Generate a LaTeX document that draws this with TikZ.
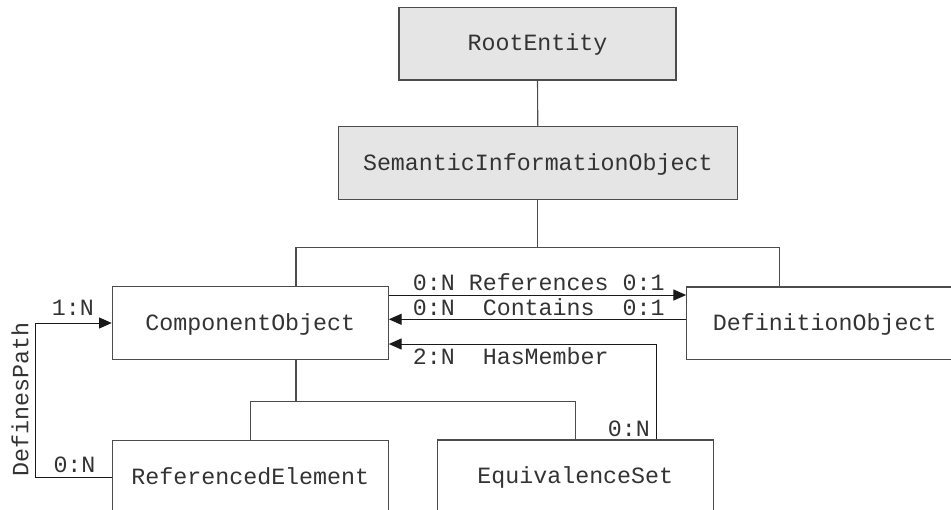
\documentclass[tikz,border=0pt]{standalone}
\usepackage{fontspec}
\setmonofont{Liberation Mono}
\usetikzlibrary{arrows.meta}

\tikzset{
  entity/.style={draw=black!70, line width=1.1pt, rectangle, inner sep=0pt,
    minimum width=276pt, minimum height=72.6pt,
    text height=16pt, text depth=2pt, text=black!80,
    font=\fontsize{23.3}{28}\selectfont\ttfamily},
  abstract/.style={entity, fill=black!10},
  tree/.style={draw=black!70, line width=1.1pt},
  assoc/.style={draw=black!90, line width=1pt,
    -{Triangle[length=12.7pt,width=11pt]}},
  lbl/.style={inner sep=0pt, anchor=base west, text=black!80,
    font=\fontsize{23.3}{28}\selectfont\ttfamily}
}

\begin{document}
\begin{tikzpicture}[x=1pt,y=-1pt]
\useasboundingbox (0,0) rectangle (951,509);
\clip (0,0) rectangle (951,509);

% classes
\node[abstract, minimum width=277pt] (root) at (537.5,43.7) {RootEntity};
\node[abstract, minimum width=399pt] (sio)  at (537.8,163)  {SemanticInformationObject};
\node[entity] (comp) at (250.3,323)   {ComponentObject};
\node[entity] (def)  at (824.7,323.3) {DefinitionObject};
\node[entity] (ref)  at (250.3,477)   {ReferencedElement};
\node[entity] (eq)   at (575.3,476.3) {EquivalenceSet};

% inheritance tree
\coordinate (busT) at ([yshift=-47.7pt]sio.south);
\draw[tree] (root.south) -- (sio.north);
\draw[tree] (sio.south) -- (busT);
\draw[tree] ([xshift=45.7pt]comp.north) |- (busT) -| ([xshift=-45.4pt]def.north);

\coordinate (busB) at ([xshift=45.7pt,yshift=-41.7pt]comp.south);
\draw[tree] ([xshift=45.7pt]comp.south) -- (busB);
\draw[tree] (ref.north) |- (busB) -| (eq.north);

% associations
\coordinate (refA) at ([yshift=28pt]comp.east);
\draw[assoc] (refA) -- (refA -| def.west);
\node[lbl] (lrefs) at (412.7,290.7) {0:N References 0:1};

\coordinate (conA) at ([yshift=4pt]def.west);
\draw[assoc] (conA) -- (conA -| comp.east);
\node[lbl] (lcont) at (412.7,315) {0:N\ \ Contains\ \ 0:1};

\coordinate (hasA) at ([xshift=80.7pt]eq.north);
\draw[assoc] (hasA) |- ([yshift=-21pt]comp.east);
\node[lbl] (lhas) at (412.7,364) {2:N\ \ HasMember};
\node[lbl, anchor=base east] (lhasn) at (650,436.7) {0:N};

\draw[assoc] (ref.west) -- ++(-76.6,0) |- (comp.west);
\node[lbl] (ldp1) at (51.7,315) {1:N};
\node[lbl] (ldp0) at (53.3,472.7) {0:N};
\node[lbl, rotate=90] (ldp) at (28.3,476.7) {DefinesPath};
\end{tikzpicture}
\end{document}
